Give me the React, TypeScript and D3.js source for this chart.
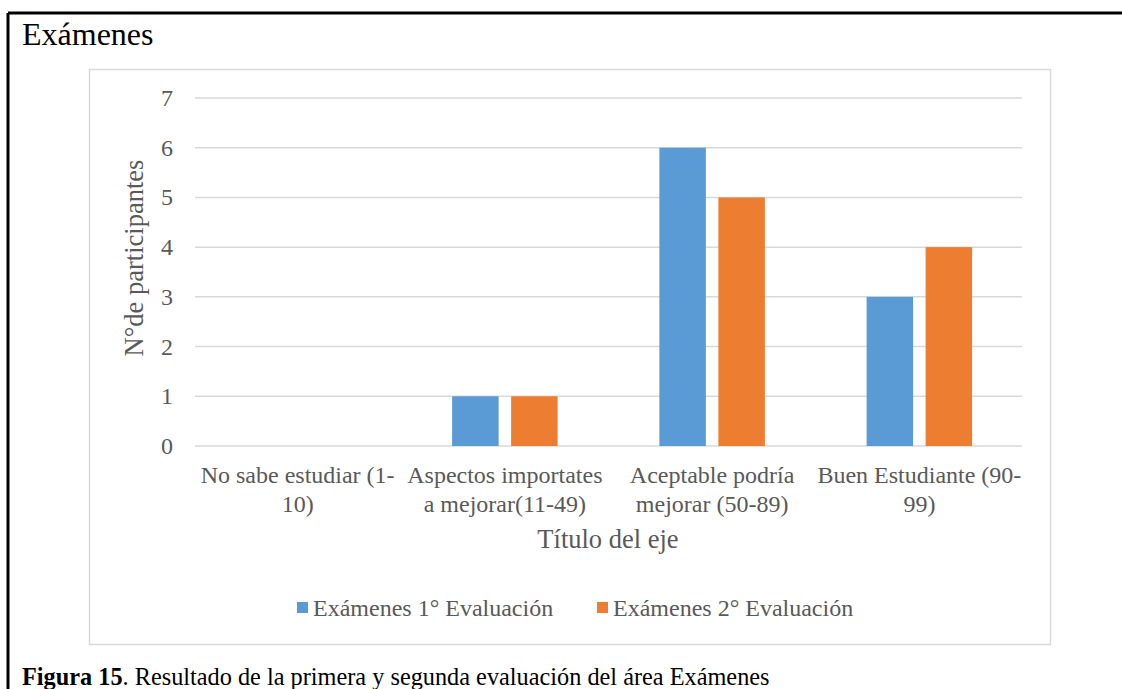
import React from "react";
import * as d3 from "d3";

const categories: string[][] = [
  ["No sabe estudiar (1-", "10)"],
  ["Aspectos importates", "a mejorar(11-49)"],
  ["Aceptable podría", "mejorar (50-89)"],
  ["Buen Estudiante (90-", "99)"],
];
const seriesNames = ["Exámenes 1° Evaluación", "Exámenes 2° Evaluación"];
const series1 = [0, 1, 6, 3];
const series2 = [0, 1, 5, 4];
const yTicks = [0, 1, 2, 3, 4, 5, 6, 7];
const colors = ["#5B9BD5", "#ED7D31"];

const W = 1122;
const H = 689;
const FONT = "'Liberation Serif', 'Times New Roman', serif";

export default function App() {
  const x = d3.scaleBand<number>().domain(d3.range(categories.length)).range([194, 1023]).paddingInner(0).paddingOuter(0);
  const y = d3.scaleLinear().domain([0, 7]).range([446, 98]);
  const inner = d3.scaleBand<number>().domain([0, 1]).paddingInner(0.212).paddingOuter(0);
  const clusterW = 105.5;
  const allSeries = [series1, series2];
  const gridX0 = 195;
  const gridX1 = 1022;

  return (
    <div style={{ position: "absolute", left: 0, top: 0 }}>
      <svg width={W} height={H} style={{ display: "block", background: "#fff" }}>
        {/* outer black border */}
        <line x1={8} x2={W} y1={13} y2={13} stroke="#000" strokeWidth={3} />
        <line x1={8} x2={8} y1={13} y2={H} stroke="#000" strokeWidth={3} />
        <text x={22} y={45} fontFamily={FONT} fontSize={32} fill="#000">Exámenes</text>

        {/* chart frame */}
        <rect x={89.5} y={69.5} width={961} height={575} fill="#fff" stroke="#D9D9D9" strokeWidth={1.5} />

        {/* gridlines */}
        {yTicks.map((t) => (
          <line key={"g" + t} x1={gridX0} x2={gridX1} y1={y(t)} y2={y(t)} stroke="#D9D9D9" strokeWidth={1.5} />
        ))}
        {yTicks.map((t) => (
          <text key={"t" + t} x={173} y={y(t) + 8} textAnchor="end" fontFamily={FONT} fontSize={24} fill="#595959">{t}</text>
        ))}

        {/* bars */}
        {categories.map((_, i) => {
          const cx = (x(i) as number) + x.bandwidth() / 2;
          inner.range([cx - clusterW / 2, cx + clusterW / 2]);
          return allSeries.map((s, j) => {
            const v = s[i];
            if (v <= 0) return null;
            return (
              <rect key={`b${i}-${j}`} x={inner(j) as number} width={inner.bandwidth()} y={y(v)} height={y(0) - y(v)} fill={colors[j]} />
            );
          });
        })}

        {/* category labels */}
        {categories.map((lines, i) => {
          const cx = (x(i) as number) + x.bandwidth() / 2;
          return (
            <text key={"c" + i} textAnchor="middle" fontFamily={FONT} fontSize={24} fill="#595959">
              {lines.map((ln, k) => (
                <tspan key={k} x={cx} y={483 + k * 29}>{ln}</tspan>
              ))}
            </text>
          );
        })}

        {/* axis titles */}
        <text x={608} y={548} textAnchor="middle" fontFamily={FONT} fontSize={26.5} fill="#595959">Título del eje</text>
        <text transform="translate(143,258) rotate(-90)" textAnchor="middle" fontFamily={FONT} fontSize={26.5} fill="#595959">N°de participantes</text>

        {/* legend */}
        {seriesNames.map((nm, j) => {
          const lx = [297, 597][j];
          return (
            <g key={"l" + j}>
              <rect x={lx} y={602} width={11} height={11} fill={colors[j]} />
              <text x={lx + 16} y={616} fontFamily={FONT} fontSize={24} fill="#595959">{nm}</text>
            </g>
          );
        })}

        {/* caption */}
        <text x={22} y={685} fontFamily={FONT} fontSize={24.3} fill="#000">
          <tspan fontWeight="bold">Figura 15</tspan>
          <tspan>. Resultado de la primera y segunda evaluación del área Exámenes</tspan>
        </text>
      </svg>
    </div>
  );
}
